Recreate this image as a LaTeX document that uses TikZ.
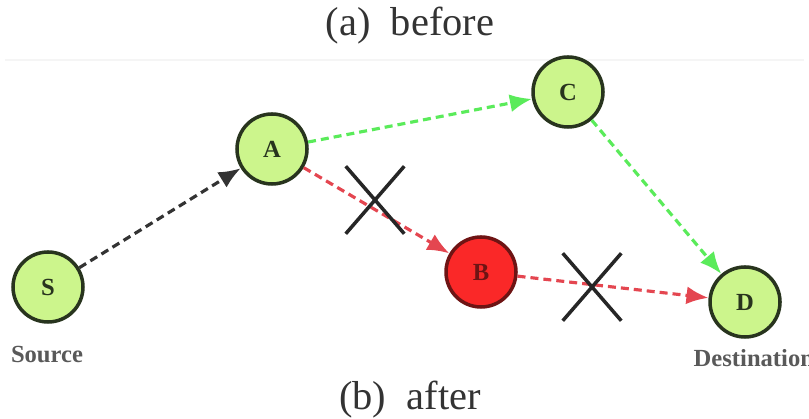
\documentclass[tikz,border=0pt]{standalone}
\usepackage{fontspec}
\setmainfont{Liberation Serif}
\usepackage{xcolor}
\usetikzlibrary{arrows.meta,shapes.misc}
\definecolor{nodefill}{RGB}{204,245,140}
\definecolor{nodeline}{RGB}{40,52,30}
\definecolor{badfill}{RGB}{250,40,40}
\definecolor{badline}{RGB}{110,20,20}
\definecolor{goodhop}{RGB}{90,235,90}
\definecolor{badhop}{RGB}{228,70,80}

\begin{document}
\begin{tikzpicture}[
  host/.style={circle, draw=nodeline, line width=1pt, fill=nodefill, minimum size=7mm, inner sep=0pt, font=\fontsize{7}{8}\selectfont\bfseries, text=nodeline},
  bad/.style={host, fill=badfill, draw=badline, text=badline},
  hop/.style={-{Latex[length=2.2mm,width=1.8mm]}, line width=0.9pt, dash pattern=on 0.8mm off 0.5mm},
  cut/.style={cross out, draw=black!85, line width=1pt, minimum width=5.5mm, minimum height=6.4mm, inner sep=0pt},
  tag/.style={font=\fontsize{7}{8}\selectfont\bfseries, text=black!65},
  caption/.style={font=\fontsize{11.5}{13}\selectfont, text=black!80}]
\useasboundingbox (0,0) rectangle (8.09,4.19);
% captions
\node[caption] (ta) at (4.10,3.93) {(a)~ before};
\node[caption] (tb) at (4.10,0.19) {(b)~ after};
\draw[black!4, line width=0.4pt] (0.05,3.59) -- (8.04,3.59);
% the hosts
\node[host] (S) at (0.48,1.32) {S};
\node[host] (A) at (2.72,2.70) {A};
\node[host] (C) at (5.68,3.27) {C};
\node[bad] (B) at (4.81,1.47) {B};
\node[host] (D) at (7.45,1.17) {D};
\node[tag] (src) at (0.47,0.64) {Source};
\node[tag, anchor=west, inner sep=0pt] (dst) at (6.93,0.61) {Destination};
% routes: old one through B is broken
\draw[hop, black!80] (S) -- (A);
\draw[hop, goodhop] (A) -- (C);
\draw[hop, goodhop] (C) -- (D);
\draw[hop, badhop] (A) -- (B);
\draw[hop, badhop] (B) -- (D);
\node[cut] (x1) at (3.75,2.19) {};
\node[cut] (x2) at (5.92,1.32) {};
\end{tikzpicture}
\end{document}
